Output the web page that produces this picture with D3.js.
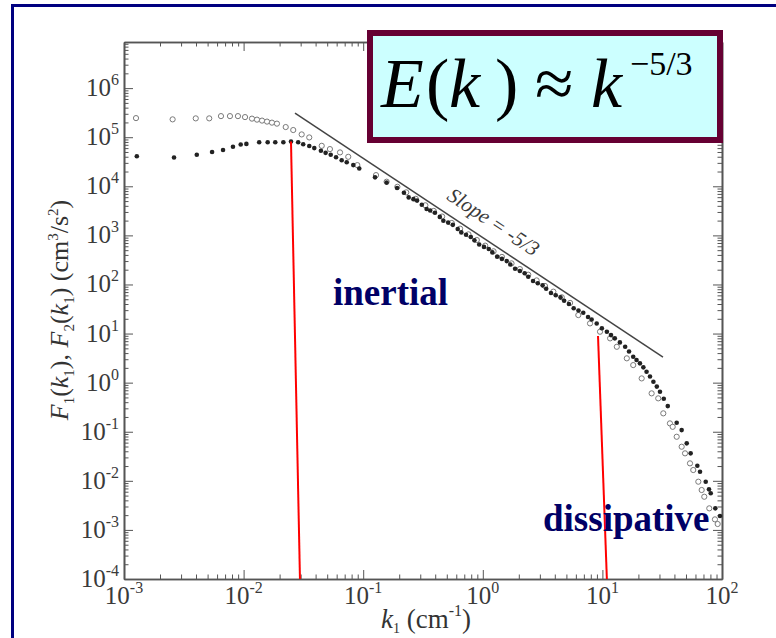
<!DOCTYPE html>
<html><head><meta charset="utf-8">
<script src="https://cdn.jsdelivr.net/npm/d3@7/dist/d3.min.js"></script>
<style>
html,body{margin:0;padding:0;background:#fff;}
svg{display:block;}
text{font-family:"Liberation Serif","Times New Roman",serif;}
</style></head>
<body>
<svg id="chart" width="776" height="638"></svg>
<script>
// ---------- data ----------
const kFilled = [0.00128,0.00262,0.00406,0.00545,0.00673,0.00815,0.00946,0.01055,0.0135,0.0159,0.0184,0.0215,0.0249,0.0286,0.0315,0.0354,0.039,0.0443,0.0485,0.0535,0.0593,0.0661,0.0728,0.0826,0.0927,0.1256,0.157,0.192,
 0.219,0.240,0.263,0.282,0.309,0.339,0.363,0.398,0.437,0.468,0.513,0.562,0.617,0.661,0.724,0.794,0.851,0.933,1.023,1.122,1.202,1.318,1.445,1.585,1.698,1.862,2.042,2.239,2.399,2.630,2.884,3.162,3.388,3.715,4.074,4.467,4.786,5.248,5.754,6.310,6.918,7.586,8.128,
 8.96,9.9,10.9,11.8,12.7,14.0,15.5,16.7,18.1,19.3,20.6,22.0,23.4,25.0,26.7,28.5,30.3,32.6,35.2,41.8,46.0,50.7,54.7,62.2,65.5,73.1,77.8,80.5,87.9,96.2];
const fFilled = [4.1e4,3.85e4,4.4e4,5.0e4,5.5e4,6.4e4,7.1e4,7.3e4,7.9e4,7.9e4,7.9e4,7.9e4,8.2e4,7.9e4,7.2e4,6.6e4,6.0e4,5.3e4,4.8e4,4.4e4,3.9e4,3.4e4,3.1e4,2.7e4,2.3e4,1.52e4,1.19e4,9.2e3,
 7400,5940,5470,5110,4200,3440,3220,2900,2380,1980,1820,1640,1350,1150,1030,930,792,651,583,527,450,369,332,299,255,209,188,169,144,118,106,96,81.8,67,60.5,54.5,46.5,39.9,32.7,29.4,26.5,21.8,19.4,
 16.0,12.8,10.9,9.3,7.98,6.6,5.38,4.3,3.37,2.9,2.47,2.05,1.67,1.33,1.04,0.83,0.653,0.47,0.333,0.152,0.108,0.058,0.0363,0.0203,0.0153,0.0096,0.0067,0.0056,0.00275,0.00192];

const kOpen = [0.00126,0.00255,0.00398,0.00516,0.00647,0.00769,0.00897,0.01028,0.01175,0.01294,0.01426,0.0157,0.01726,0.019,0.0225,0.026,0.0306,0.0354,0.045,0.0527,0.064,0.075,0.0893,0.128,0.157,0.193,
 0.229,0.275,0.331,0.389,0.457,0.550,0.646,0.759,0.891,1.047,1.230,1.445,1.738,2.042,2.399,2.818,3.311,3.890,4.571,5.370,
 6.29,7.88,9.55,11.6,13.2,16.0,18.1,21.3,25.8,29.3,32.3,36.7,38.7,41.8,46.0,49.1,54.0,57.5,63.4,67.6,71.1,78.3,87.3,92.0];
const fOpen = [2.45e5,2.31e5,2.42e5,2.42e5,2.69e5,2.69e5,2.69e5,2.57e5,2.39e5,2.28e5,2.18e5,2.08e5,1.98e5,1.89e5,1.61e5,1.40e5,1.14e5,9.9e4,6.68e4,5.73e4,4.9e4,3.99e4,2.7e4,1.69e4,1.24e4,9770,
 7520,5560,4100,3150,2420,1790,1370,1050,805,618,474,364,269,206,158,121,93.1,71.4,54.8,42.1,
 23.8,16.1,10.9,7.98,5.38,3.13,2.28,1.22,0.605,0.479,0.237,0.148,0.126,0.079,0.0495,0.0363,0.0227,0.0166,0.0096,0.0065,0.00474,0.00275,0.00164,0.00132];

const xTicks = [1e-3,1e-2,1e-1,1e0,1e1,1e2];
const xTickExp = ["-3","-2","-1","0","1","2"];
const yTicks = [1e-4,1e-3,1e-2,1e-1,1e0,1e1,1e2,1e3,1e4,1e5,1e6];
const yTickExp = ["-4","-3","-2","-1","0","1","2","3","4","5","6"];

// reference slope line (k, F) end points and the red markers
const slopeK = [0.0269, 32.1];
const slopeF = [3.1e5, 3.32];
const redK = [[0.0249, 0.0296], [9.19, 10.9]];
const redF = [[8.2e4, 1e-4], [8.9, 1e-4]];

// ---------- drawing ----------
const svg = d3.select("#chart");
const L = 124, R = 722, T = 42, B = 579;
const x = d3.scaleLog().domain([1e-3, 1e2]).range([L, R]);
const y = d3.scaleLog().domain([1e-4, 8.7e6]).range([B, T]);

// outer navy frame
svg.append("rect").attr("x", 12.5).attr("y", 5.5).attr("width", 900).attr("height", 800)
  .attr("fill", "#fff").attr("stroke", "#000080").attr("stroke-width", 3);

function minors(lo, hi) {
  const out = [];
  for (let e = lo; e < hi; e++) for (let m = 2; m <= 9; m++) out.push(m * Math.pow(10, e));
  return out;
}
const xMinor = minors(-3, 2);
const yMinor = minors(-4, 7).filter(v => v <= 8.7e6);

const axisColor = "#555";
function styleAxis(g) {
  g.selectAll(".domain").attr("stroke", axisColor).attr("stroke-width", 1.6);
  g.selectAll(".tick line").attr("stroke", axisColor).attr("stroke-width", 1);
  g.selectAll(".tick text").remove();
}
const axes = [
  [d3.axisBottom, `translate(0,${B})`, x, xTicks, xMinor],
  [d3.axisTop, `translate(0,${T})`, x, xTicks, xMinor],
  [d3.axisLeft, `translate(${L},0)`, y, yTicks, yMinor],
  [d3.axisRight, `translate(${R},0)`, y, yTicks, yMinor]
];
axes.forEach(([fn, tr, sc, maj, mi]) => {
  svg.append("g").attr("transform", tr)
    .call(fn(sc).tickValues(mi).tickSize(-4.5).tickSizeOuter(0).tickFormat(""))
    .call(styleAxis);
  svg.append("g").attr("transform", tr)
    .call(fn(sc).tickValues(maj).tickSize(-9).tickSizeOuter(0).tickFormat(""))
    .call(styleAxis);
});

// tick labels
const tickCol = "#3a3a3a";
xTicks.forEach((v, i) => {
  const t = svg.append("text").attr("x", x(v)).attr("y", 604).attr("text-anchor", "middle")
    .attr("font-size", 25).attr("fill", tickCol);
  t.append("tspan").text("10");
  t.append("tspan").attr("dy", -11).attr("font-size", 16).text(xTickExp[i]);
});
yTicks.forEach((v, i) => {
  const t = svg.append("text").attr("x", 119).attr("y", y(v) + 8).attr("text-anchor", "end")
    .attr("font-size", 25).attr("fill", tickCol);
  t.append("tspan").text("10");
  t.append("tspan").attr("dy", -11).attr("font-size", 16).text(yTickExp[i]);
});

// axis titles
const xt = svg.append("text").attr("x", 426).attr("y", 628).attr("text-anchor", "middle")
  .attr("font-size", 27).attr("fill", "#333");
xt.append("tspan").attr("font-style", "italic").text("k");
xt.append("tspan").attr("font-size", 14).attr("dy", 5).text("1");
xt.append("tspan").attr("dy", -5).text(" (cm");
xt.append("tspan").attr("font-size", 16).attr("dy", -12).text("-1");
xt.append("tspan").attr("dy", 12).text(")");

const yt = svg.append("text").attr("transform", "translate(68,310) rotate(-90)")
  .attr("text-anchor", "middle").attr("font-size", 26).attr("fill", "#333");
function seg(parts) {
  parts.forEach(p => {
    const s = yt.append("tspan").text(p.t);
    if (p.i) s.attr("font-style", "italic");
    if (p.fs) s.attr("font-size", p.fs);
    if (p.dy) s.attr("dy", p.dy);
  });
}
seg([
  {t: "F", i: 1}, {t: "1", fs: 15, dy: 6}, {t: "(", dy: -6}, {t: "k", i: 1}, {t: "1", fs: 15, dy: 6}, {t: "),  ", dy: -6},
  {t: "F", i: 1}, {t: "2", fs: 15, dy: 6}, {t: "(", dy: -6}, {t: "k", i: 1}, {t: "1", fs: 15, dy: 6}, {t: ")  (cm", dy: -6},
  {t: "3", fs: 15, dy: -10}, {t: "/s", dy: 10}, {t: "2", fs: 15, dy: -10}, {t: ")", dy: 10}
]);

// data markers
const plot = svg.append("g");
plot.selectAll("circle.open").data(kOpen.map((k, i) => [k, fOpen[i]])).join("circle")
  .attr("class", "open").attr("cx", d => x(d[0])).attr("cy", d => y(d[1])).attr("r", 2.6)
  .attr("fill", "#fff").attr("stroke", "#7a7a7a").attr("stroke-width", 1);
plot.selectAll("circle.fill").data(kFilled.map((k, i) => [k, fFilled[i]])).join("circle")
  .attr("class", "fill").attr("cx", d => x(d[0])).attr("cy", d => y(d[1])).attr("r", 2.3)
  .attr("fill", "#222");

// slope reference line
svg.append("line").attr("x1", x(slopeK[0])).attr("y1", y(slopeF[0]))
  .attr("x2", x(slopeK[1])).attr("y2", y(slopeF[1]))
  .attr("stroke", "#444").attr("stroke-width", 1.5);
const ang = Math.atan2(y(slopeF[1]) - y(slopeF[0]), x(slopeK[1]) - x(slopeK[0])) * 180 / Math.PI;
const ax0 = 483;
const ay0 = y(slopeF[0]) + (ax0 - x(slopeK[0])) * (y(slopeF[1]) - y(slopeF[0])) / (x(slopeK[1]) - x(slopeK[0]));
svg.append("text").attr("transform", `translate(${ax0},${ay0}) rotate(${ang})`)
  .attr("y", -12).attr("text-anchor", "middle").attr("font-size", 21).attr("font-style", "italic")
  .attr("fill", "#3a3a3a").text("Slope = -5/3");

// red markers
redK.forEach((ks, i) => {
  svg.append("line").attr("x1", x(ks[0])).attr("y1", y(redF[i][0]))
    .attr("x2", x(ks[1])).attr("y2", y(redF[i][1]))
    .attr("stroke", "#ff0000").attr("stroke-width", 2);
});

// region labels
svg.append("text").attr("x", 333).attr("y", 305).attr("font-size", 37).attr("font-weight", "bold")
  .attr("fill", "#000066").text("inertial");
svg.append("text").attr("x", 543).attr("y", 531).attr("font-size", 37).attr("font-weight", "bold")
  .attr("fill", "#000066").text("dissipative");

// formula box
svg.append("rect").attr("x", 370).attr("y", 33).attr("width", 350).attr("height", 107)
  .attr("fill", "#ccffff").attr("stroke", "#660033").attr("stroke-width", 6);
const fm = svg.append("text").attr("y", 107).attr("font-size", 70).attr("fill", "#000");
fm.append("tspan").attr("x", 381).attr("font-style", "italic").text("E");
fm.append("tspan").attr("x", 426).text("(");
fm.append("tspan").attr("x", 449).attr("font-style", "italic").text("k");
fm.append("tspan").attr("x", 495).text(")");
fm.append("tspan").attr("x", 535).text("\u2248");
fm.append("tspan").attr("x", 591).attr("font-style", "italic").text("k");
const sup = svg.append("text").attr("x", 630).attr("y", 75).attr("font-size", 34).attr("fill", "#000");
sup.text("\u22125/3");
</script>
</body></html>
